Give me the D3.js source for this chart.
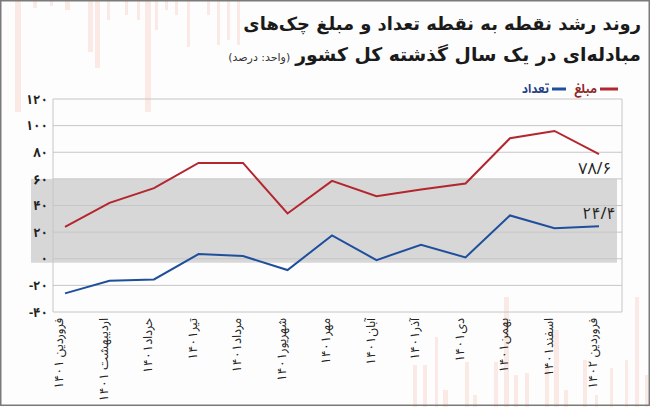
<!DOCTYPE html>
<html><head><meta charset="utf-8">
<script src="https://cdn.jsdelivr.net/npm/d3@7"></script>
<style>
html,body{margin:0;padding:0;background:#fff;}
svg{display:block;}
text{font-family:"Noto Sans Arabic","Vazirmatn","DejaVu Sans",sans-serif;}
</style></head>
<body>
<svg id="chart" width="650" height="407"></svg>
<script>
// ---- data ----
const months = ["فروردین ۱۴۰۱","اردیبهشت ۱۴۰۱","خرداد۱۴۰۱","تیر۱۴۰۱","مرداد۱۴۰۱","شهریور۱۴۰۱","مهر۱۴۰۱","آبان۱۴۰۱","آذر۱۴۰۱","دی۱۴۰۱","بهمن۱۴۰۱","اسفند۱۴۰۱","فروردین ۱۴۰۲"];
const amountGrowth = [24, 42, 53, 72, 72, 34, 58.5, 47, 52, 56.5, 90.5, 96, 78.6];   // مبلغ
const countGrowth  = [-26, -16.5, -15.5, 3.5, 2, -8.5, 17.5, -1, 10.5, 1, 32.5, 23, 24.4]; // تعداد
const yTicks = [-40, -20, 0, 20, 40, 60, 80, 100, 120];
const seriesNames = ["مبلغ", "تعداد"];
const lastLabels = ["۷۸/۶", "۲۴/۴"];
const titleLine1 = "روند رشد نقطه به نقطه تعداد و مبلغ چک‌های";
const titleLine2 = "مبادله‌ای در یک سال گذشته کل کشور";
const unitText = "(واحد: درصد)";

// decorative background bars (publisher artwork), not data
const decoTop = [[15,6,112],[33,4,8],[50,3,6],[65,5,10],[88,5,52],[95,5,68],[107,3,20],[125,3,15],[137,3,20],[145,6,112],[155,3,30],[165,3,10],[175,3,15],[187,3,47],[207,3,15],[217,3,45],[227,3,40],[237,3,45]];
const decoBottom = [[413,4,365],[423,4,365],[435,3,337],[443,5,390],[465,4,362],[473,4,395],[494,4,362],[504,5,297],[514,4,375],[525,4,373],[545,4,365],[554,5,330],[564,4,390],[583,4,360],[595,3,395],[610,3,368],[625,3,360],[635,4,297],[645,3,375]];

const fa = s => String(s).replace(/\d/g, d => "۰۱۲۳۴۵۶۷۸۹"[+d]);

const svg = d3.select("#chart");
const W = 650, H = 407;
const RED = "#b3262e", BLUE = "#1f4f9c";

svg.append("rect").attr("width", W).attr("height", H).attr("fill", "#fdfdfd");

// decorations
const deco = svg.append("g").attr("fill", "#f9ddd4").attr("opacity", 0.6);
deco.selectAll(".dt").data(decoTop).join("rect")
  .attr("x", d => d[0]).attr("y", 0).attr("width", d => d[1]).attr("height", d => d[2]);
deco.selectAll(".db").data(decoBottom).join("rect")
  .attr("x", d => d[0]).attr("y", d => d[2]).attr("width", d => d[1]).attr("height", d => H - d[2]);

// scales
const plotL = 53, plotR = 622, plotT = 99, plotB = 312;
const x = d3.scalePoint().domain(months).range([65, 599]);
const y = d3.scaleLinear().domain([-40, 120]).range([plotB, plotT]);

// grey band (publisher artwork)
svg.append("rect").attr("x", 31).attr("y", y(60)).attr("width", 617 - 31)
  .attr("height", y(-3) - y(60)).attr("fill", "#d7d7d7");

// grid
svg.append("g").selectAll("line").data(yTicks).join("line")
  .attr("x1", plotL).attr("x2", plotR).attr("y1", d => y(d)).attr("y2", d => y(d))
  .attr("stroke", "#c6c6c6").attr("stroke-width", 1);
svg.append("line").attr("x1", plotL).attr("x2", plotL).attr("y1", plotT).attr("y2", plotB).attr("stroke", "#c6c6c6");
svg.append("line").attr("x1", plotR).attr("x2", plotR).attr("y1", plotT).attr("y2", plotB).attr("stroke", "#c6c6c6");

// y axis
const yAxis = svg.append("g").attr("transform", `translate(${plotL - 5},0)`)
  .call(d3.axisLeft(y).tickValues(yTicks).tickSize(0).tickPadding(0).tickFormat(d => fa(d)));
yAxis.select(".domain").remove();
yAxis.selectAll("text").attr("font-size", 13).attr("font-weight", "bold").attr("fill", "#222")
  .attr("direction", "ltr").style("font-family", '"Noto Sans Arabic","DejaVu Sans",sans-serif');

// x labels
svg.append("g").selectAll("text").data(months).join("text")
  .attr("transform", d => `translate(${x(d) - 6},318) rotate(-90)`)
  .attr("direction", "rtl").attr("text-anchor", "start").attr("dy", "0.35em")
  .attr("font-size", 12.5).attr("fill", "#222").text(d => d);

// lines
const line = d3.line().x((d, i) => x(months[i])).y(d => y(d));
svg.append("path").datum(amountGrowth).attr("d", line).attr("fill", "none")
  .attr("stroke", RED).attr("stroke-width", 2).attr("stroke-linejoin", "miter");
svg.append("path").datum(countGrowth).attr("d", line).attr("fill", "none")
  .attr("stroke", BLUE).attr("stroke-width", 2).attr("stroke-linejoin", "miter");

// end labels
const lastM = months[months.length - 1];
svg.append("text").attr("x", x(lastM) - 4).attr("y", y(amountGrowth[amountGrowth.length - 1]) + 20)
  .attr("text-anchor", "middle").attr("direction", "ltr").attr("font-size", 16).attr("fill", "#222").text(lastLabels[0]);
svg.append("text").attr("x", x(lastM) + 0).attr("y", y(countGrowth[countGrowth.length - 1]) - 7)
  .attr("text-anchor", "middle").attr("direction", "ltr").attr("font-size", 16).attr("fill", "#222").text(lastLabels[1]);

// legend
const lg = svg.append("g");
lg.append("line").attr("x1", 600).attr("x2", 618).attr("y1", 89).attr("y2", 89).attr("stroke", RED).attr("stroke-width", 3);
lg.append("text").attr("x", 597).attr("y", 89).attr("dy", "0.3em").attr("direction", "rtl").attr("text-anchor", "start")
  .attr("font-size", 12).attr("font-weight", "bold").attr("fill", "#8e2a2a").text(seriesNames[0]);
lg.append("line").attr("x1", 552).attr("x2", 566).attr("y1", 89).attr("y2", 89).attr("stroke", BLUE).attr("stroke-width", 3);
lg.append("text").attr("x", 549).attr("y", 89).attr("dy", "0.3em").attr("direction", "rtl").attr("text-anchor", "start")
  .attr("font-size", 12).attr("font-weight", "bold").attr("fill", "#1f3f86").text(seriesNames[1]);

// title
const TF = '"DejaVu Sans",sans-serif';
function fit(sel, target, maxFs) {
  const w = sel.node().getComputedTextLength();
  const fs = parseFloat(sel.attr("font-size"));
  if (w > 0) sel.attr("font-size", Math.min(maxFs, fs * target / w));
}
const t1 = svg.append("text").attr("x", 641).attr("y", 30).attr("direction", "rtl").attr("text-anchor", "start")
  .style("font-family", TF).attr("font-size", 18).attr("font-weight", "bold").attr("fill", "#1a1a1a").text(titleLine1);
fit(t1, 398, 19);
const t2 = svg.append("text").attr("x", 641).attr("y", 61).attr("direction", "rtl").attr("text-anchor", "start")
  .style("font-family", TF).attr("font-size", 18).attr("font-weight", "bold").attr("fill", "#1a1a1a").text(titleLine2);
fit(t2, 346, 19);
const t2w = t2.node().getComputedTextLength();
const t3 = svg.append("text").attr("x", 641 - t2w - 5).attr("y", 61).attr("direction", "rtl").attr("text-anchor", "start")
  .style("font-family", TF).attr("font-size", 11).attr("fill", "#333").text(unitText);

// frame
svg.append("rect").attr("x", 0.75).attr("y", 0.75).attr("width", W - 1.5).attr("height", H - 2.5)
  .attr("fill", "none").attr("stroke", "#7a7a7a").attr("stroke-width", 1.5);
</script>
</body></html>
